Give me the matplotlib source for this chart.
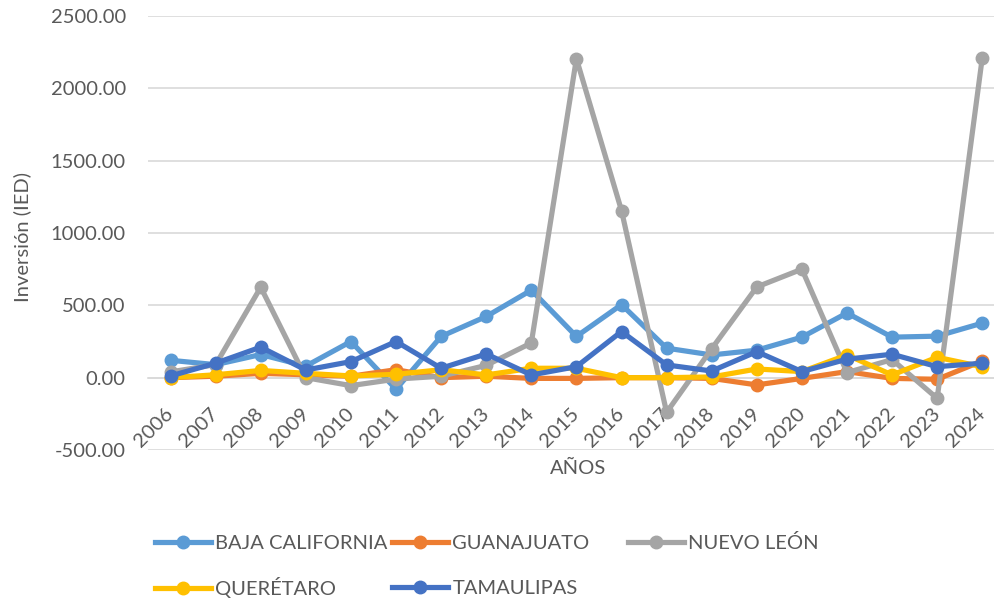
import matplotlib
matplotlib.use('Agg')
import matplotlib.pyplot as plt
from matplotlib.lines import Line2D
import numpy as np

plt.rcParams['font.family'] = ['Lato', 'DejaVu Sans']

years = ['2006', '2007', '2008', '2009', '2010', '2011', '2012', '2013', '2014', '2015',
         '2016', '2017', '2018', '2019', '2020', '2021', '2022', '2023', '2024']

baja_california = [120, 90, 160, 80, 250, -80, 285, 423, 605, 285, 505, 204, 157, 190, 280, 447, 280, 287, 377]
guanajuato = [0, 10, 30, 20, 10, 55, 0, 10, -5, -5, 0, 0, -5, -50, -5, 42, -5, -11, 115]
nuevo_leon = [40, 90, 625, 0, -55, -10, 10, 85, 240, 2205, 1155, -240, 200, 627, 750, 35, 125, -143, 2212]
queretaro = [0, 20, 50, 30, 12, 23, 55, 19, 65, 65, 0, 0, 5, 60, 42, 157, 19, 141, 75]
tamaulipas = [12, 100, 211, 53, 111, 250, 65, 164, 19, 76, 319, 88, 46, 180, 42, 128, 162, 76, 100]

series_names = ['BAJA CALIFORNIA', 'GUANAJUATO', 'NUEVO LEÓN', 'QUERÉTARO', 'TAMAULIPAS']
series_data = [baja_california, guanajuato, nuevo_leon, queretaro, tamaulipas]
colors = ['#5B9BD5', '#ED7D31', '#A5A5A5', '#FFC000', '#4472C4']

yticks = [-500, 0, 500, 1000, 1500, 2000, 2500]

text_col = '#595959'
grid_col = '#D9D9D9'

fig = plt.figure(figsize=(9.94, 6.01), dpi=100)
ax = fig.add_axes([148/994, (601-450)/601, (994-148)/994, (450-16)/601])

x = np.arange(len(years))
handles = []
for name, vals, col in zip(series_names, series_data, colors):
    h, = ax.plot(x, vals, color=col, lw=3.75, marker='o', ms=9, label=name,
                 solid_joinstyle='round', solid_capstyle='round', clip_on=False)
    handles.append(h)

ax.set_xlim(-0.5, 18.26)
ax.set_ylim(-500, 2500)
ax.set_yticks(yticks)
ax.set_yticklabels(['{:.2f}'.format(v) for v in yticks])
ax.yaxis.grid(True, color=grid_col, lw=1.2)
ax.set_axisbelow(True)

for s in ['top', 'right', 'left']:
    ax.spines[s].set_visible(False)
ax.spines['bottom'].set_position(('data', 0))
ax.spines['bottom'].set_color(grid_col)
ax.spines['bottom'].set_linewidth(1.2)
ax.spines['bottom'].set_zorder(0.5)

ax.set_xticks(x)
ax.set_xticklabels(years, rotation=45, ha='right', va='center', rotation_mode='anchor')
ax.tick_params(axis='x', length=0, pad=24, labelsize=14.5, labelcolor=text_col)
ax.tick_params(axis='y', length=0, pad=16, labelsize=14.5, labelcolor=text_col)

fig.text(578/994, 1 - 468/601, 'AÑOS', ha='center', va='center', fontsize=14.5, color=text_col)
fig.text(22/994, 1 - 237/601, 'Inversión (IED)', ha='center', va='center', rotation=90,
         fontsize=14.5, color=text_col)

# legend entries placed one by one like the excel layout
leg_pos = [(155, 543), (392, 543), (628, 543), (155, 588), (392, 588)]
for h, name, (lx, ly) in zip(handles, series_names, leg_pos):
    proxy = Line2D([0], [0], color=h.get_color(), lw=3.75, marker='o', ms=9)
    fig.legend(handles=[proxy], labels=[name], loc='center left',
               bbox_to_anchor=(lx/994, 1 - ly/601), frameon=False, borderpad=0,
               borderaxespad=0, handlelength=2.8, handletextpad=0.2,
               prop={'size': 14.5}, labelcolor=text_col)

fig.savefig('out.png', dpi=100)
